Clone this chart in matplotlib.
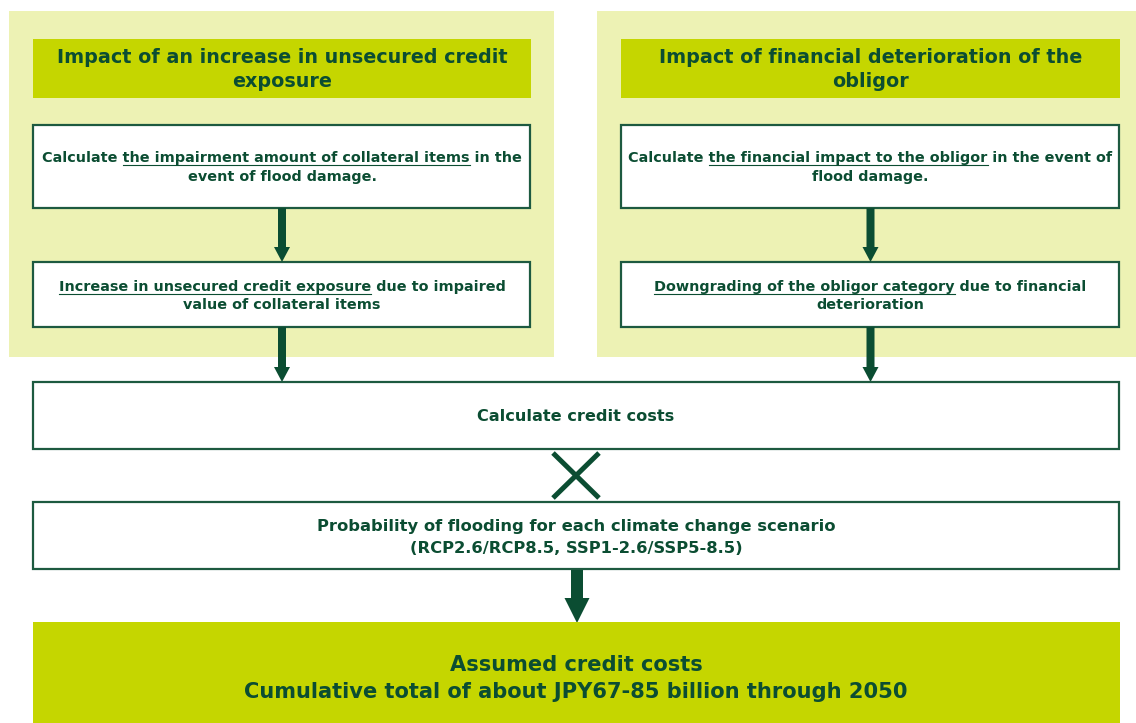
"""
plot.py — flood-risk credit-cost flow diagram (pixel-coordinate layout).
"""
import matplotlib
matplotlib.use("Agg")
import matplotlib.pyplot as plt
from matplotlib import patches

plt.rcParams.update({"font.family": "DejaVu Sans", "font.weight": "bold"})

PANEL = "#edf2b4"; HEAD = "#c5d600"; DG = "#0b4d32"; EDGE = "#1d5a40"

# ---- texts: each line is a list of (segment, underlined) ---------------
left_title = ["Impact of an increase in unsecured credit", "exposure"]
right_title = ["Impact of financial deterioration of the", "obligor"]
left_step1 = [[("Calculate ", False), ("the impairment amount of collateral items", True),
               (" in the", False)],
              [("event of flood damage.", False)]]
left_step2 = [[("Increase in unsecured credit exposure", True), (" due to impaired", False)],
              [("value of collateral items", False)]]
right_step1 = [[("Calculate ", False), ("the financial impact to the obligor", True),
                (" in the event of", False)],
               [("flood damage.", False)]]
right_step2 = [[("Downgrading of the obligor category", True), (" due to financial", False)],
               [("deterioration", False)]]
calc_text = ["Calculate credit costs"]
prob_text = ["Probability of flooding for each climate change scenario",
             "(RCP2.6/RCP8.5, SSP1-2.6/SSP5-8.5)"]
result_text = ["Assumed credit costs",
               "Cumulative total of about JPY67-85 billion through 2050"]


def box(ax, x0, y0, x1, y1, fc, ec=None, lw=0):
    ax.add_patch(patches.Rectangle((x0, y0), x1 - x0, y1 - y0, fc=fc,
                                   ec=ec if ec else "none", lw=lw))


def width(ax, r, s, fs):
    t = ax.text(0, 0, s, fontsize=fs)
    w = t.get_window_extent(r).width
    t.remove()
    return w


def rich_line(ax, r, cx, y, segs, fs):
    full = "".join(s for s, _ in segs)
    ax.text(cx, y, full, fontsize=fs, color=DG, ha="center", va="baseline")
    W = width(ax, r, full, fs)
    x0 = cx - W / 2
    pre = ""
    for s, u in segs:
        if u:
            xs = x0 + width(ax, r, pre + "X", fs) - width(ax, r, "X", fs)
            xe = xs + width(ax, r, s, fs)
            ax.plot([xs, xe], [y + 2.5, y + 2.5], color=DG, lw=0.8)
        pre += s


def arrow(ax, x, y0, y1, w, hw, hl):
    ax.add_patch(patches.FancyArrow(x, y0, 0, y1 - y0, width=w, head_width=hw,
                                    head_length=hl, length_includes_head=True,
                                    fc=DG, ec="none"))


def main():
    fig = plt.figure(figsize=(11.36, 7.23), dpi=100)
    ax = fig.add_axes([0, 0, 1, 1])
    ax.set_xlim(0, 1136); ax.set_ylim(723, 0); ax.axis("off")
    r = fig.canvas.get_renderer()

    # two side panels
    for (px0, px1, hx0, hx1, title, s1, s2) in (
            (9, 554, 33, 531, left_title, left_step1, left_step2),
            (597, 1136, 621, 1120, right_title, right_step1, right_step2)):
        box(ax, px0, 11, px1, 357, PANEL)
        box(ax, hx0, 39, hx1, 98, HEAD)
        cx = (hx0 + hx1) / 2
        for i, ln in enumerate(title):
            ax.text(cx, 63 + 24 * i, ln, fontsize=13.8, color=DG, ha="center", va="baseline")
        box(ax, hx0, 125, hx1 - 1, 208, "white", EDGE, 1.6)
        box(ax, hx0, 262, hx1 - 1, 327, "white", EDGE, 1.6)
        for i, ln in enumerate(s1):
            rich_line(ax, r, cx, 162 + 19 * i, ln, 10.4)
        for i, ln in enumerate(s2):
            rich_line(ax, r, cx, 291 + 18 * i, ln, 10.4)
        arrow(ax, cx, 208, 262, 8, 16, 15)
        arrow(ax, cx, 327, 382, 8, 16, 15)

    # credit cost box, multiplication sign, probability box
    box(ax, 33, 382, 1119, 449, "white", EDGE, 1.6)
    ax.text(576, 421, calc_text[0], fontsize=11.6, color=DG, ha="center", va="baseline")
    ax.plot([553, 599], [453, 498], color=DG, lw=3.6, solid_capstyle="butt")
    ax.plot([599, 553], [453, 498], color=DG, lw=3.6, solid_capstyle="butt")
    box(ax, 33, 502, 1119, 569, "white", EDGE, 1.6)
    for i, ln in enumerate(prob_text):
        ax.text(576, 531 + 22 * i, ln, fontsize=11.8, color=DG, ha="center", va="baseline")
    arrow(ax, 577, 570, 623, 12, 25, 25)

    # result
    box(ax, 33, 622, 1120, 723, HEAD)
    for i, ln in enumerate(result_text):
        ax.text(576, 671 + 27 * i, ln, fontsize=15.1, color=DG, ha="center", va="baseline")

    fig.savefig("out.png", dpi=100, facecolor="white")
    plt.close(fig)


if __name__ == "__main__":
    main()
